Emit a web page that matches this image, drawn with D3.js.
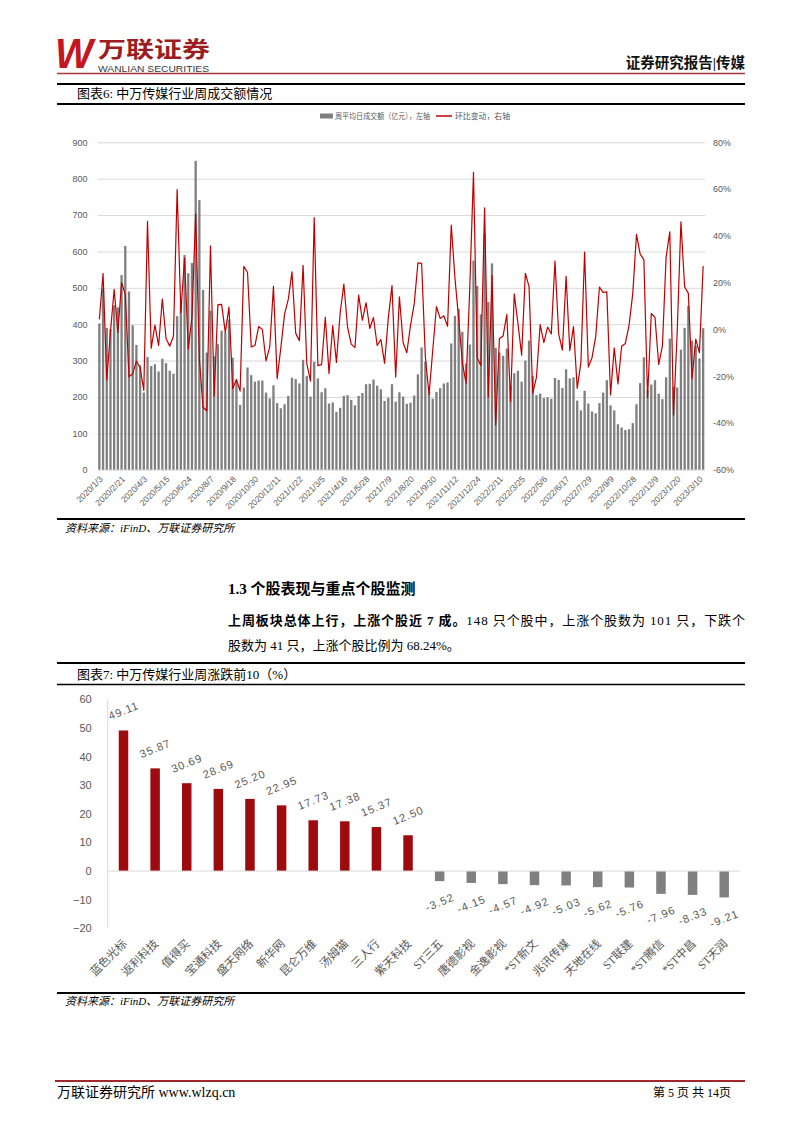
<!DOCTYPE html>
<html>
<head>
<meta charset="utf-8">
<script src="https://cdn.jsdelivr.net/npm/d3@7"></script>
<style>
  body { margin: 0; background: #fff; }
  svg { display: block; }
  .axis path.domain { display: none; }
  .axis line { stroke: #d9d9d9; }
</style>
</head>
<body>
<svg id="page" width="802" height="1133"></svg>
<script>
// ---- chart 6: weekly turnover of the SW media sector ----
const weekLabels = ["2020/1/3","2020/2/21","2020/4/3","2020/5/15","2020/6/24","2020/8/7","2020/9/18",
  "2020/10/30","2020/12/11","2021/1/22","2021/3/5","2021/4/16","2021/5/28","2021/7/9","2021/8/20",
  "2021/9/30","2021/11/12","2021/12/24","2022/2/11","2022/3/25","2022/5/6","2022/6/17","2022/7/29",
  "2022/9/9","2022/10/28","2022/12/9","2023/1/20","2023/3/10"];
const labelStep = 6;
// weekly average daily turnover, 100m yuan (left axis)
const turnover = [
  402, 498, 390, 386, 452, 446, 535, 615, 490, 397, 343, 287, 212, 310, 285, 290, 270, 305, 293, 272,
  264, 422, 452, 590, 540, 568, 849, 741, 494, 322, 437, 312, 345, 382, 377, 413, 308, 242, 178, 226,
  281, 260, 242, 245, 245, 212, 196, 232, 183,
  169, 180, 203, 253, 249, 237, 302, 258, 201, 297, 251, 213, 224, 182, 185, 159, 170, 203, 205, 192,
  177, 203, 211, 235, 236, 248, 231, 221, 189, 198, 235, 187, 213, 201, 181, 184, 204, 262, 336, 297,
  214, 195, 214, 224, 237, 240, 347, 423, 442, 379, 292, 344, 575, 505, 427, 649, 461,
  567, 335, 322, 313, 333, 230, 265, 272, 242, 300, 355, 258, 205, 209, 197, 199, 195, 252, 247, 225,
  276, 251, 254, 190, 163, 217, 182, 160, 155, 183, 212, 246, 177, 163, 125, 116, 109, 111, 128, 180,
  238, 309, 219, 234, 246, 209, 194, 254, 360, 228, 226, 330, 390, 450, 355, 340, 306, 389
];
// week-on-week change, % (right axis)
const momChange = [
  4.3, 23.9, -21.7, -1.0, 17.1, -1.3, 20.0, 15.0, -20.3, -19.0, -13.6, -16.3, -26.1, 46.2, -8.1, 1.8,
  -6.9, 13.0, -3.9, -7.2, -2.9, 59.8, 7.1, 30.5, -8.5, 5.2, 49.5, -12.7, -33.3, -34.8, 35.7, -28.6,
  10.6, 10.7, -1.3, 9.5, -25.4, -21.4, -26.4, 27.0, 24.3, -7.5, -6.9, 1.2, 0.0, -13.5, -7.5, 18.4, -21.1,
  -7.7, 6.5, 12.8, 24.6, -1.6, -4.8, 27.4, -14.6, -22.1, 47.8, -15.5, -15.1, 5.2, -18.8, 1.6, -14.1,
  6.9, 19.4, 1.0, -6.3, -7.8, 14.7, 3.9, 11.4, 0.4, 5.1, -6.9, -4.3, -14.5, 4.8, 18.7, -20.4, 13.9,
  -5.6, -10.0, 1.7, 10.9, 28.4, 28.2, -11.6, -27.9, -8.9, 9.7, 4.7, 5.8, 1.3, 44.6, 21.9, 4.5, -14.3,
  -23.0, 17.8, 67.2, -12.2, -15.4, 52.0, -29.0,
  23.0, -40.9, -3.9, -2.8, 6.4, -30.9, 15.2, 2.6, -11.0, 24.0, 18.3, -27.3, -20.5, 2.0, -5.7, 1.0,
  -2.0, 29.2, -2.0, -8.9, 22.7, -9.1, 1.2, -25.2, -14.2, 33.1, -16.1, -12.1, -3.1, 18.1, 15.8, 16.0,
  -28.0, -7.9, -23.3, -7.2, -6.0, 1.8, 15.3, 40.6, 32.2, 29.8, -29.1, 6.8, 5.1, -15.0, -7.2, 30.9,
  41.7, -36.7, -0.9, 46.0, 18.2, 15.4, -21.1, -4.2, -10.0, 27.1
];
const leftTicks = [0, 100, 200, 300, 400, 500, 600, 700, 800, 900];
const rightTicks = [-60, -40, -20, 0, 20, 40, 60, 80];

// ---- chart 7: top/bottom 10 weekly movers, % ----
const stockNames = ["蓝色光标", "返利科技", "值得买", "宝通科技", "盛天网络", "新华网", "昆仑万维", "汤姆猫", "三人行", "紫天科技",
  "ST三五", "唐德影视", "金逸影视", "*ST新文", "兆讯传媒", "天地在线", "ST联建", "*ST腾信", "*ST中昌", "ST天润"];
const stockChange = [49.11, 35.87, 30.69, 28.69, 25.20, 22.95, 17.73, 17.38, 15.37, 12.50,
  -3.52, -4.15, -4.57, -4.92, -5.03, -5.62, -5.76, -7.96, -8.33, -9.21];
const moverTicks = [-20, -10, 0, 10, 20, 30, 40, 50, 60];

const SERIF = '"Liberation Serif","Noto Sans CJK SC",serif';
const SANS = '"Liberation Sans","Noto Sans CJK SC",sans-serif';
const GREY_TXT = "#595959";

const svg = d3.select("#page");

function hline(y, x1, x2, w, color) {
  svg.append("line").attr("x1", x1).attr("x2", x2).attr("y1", y).attr("y2", y)
    .attr("stroke", color).attr("stroke-width", w);
}
function txt(x, y, s, size, opts) {
  opts = opts || {};
  const t = svg.append("text").attr("x", x).attr("y", y)
    .attr("font-family", opts.family || SERIF)
    .attr("font-size", size)
    .attr("fill", opts.fill || "#000")
    .attr("font-weight", opts.weight || "normal")
    .attr("font-style", opts.style || "normal")
    .attr("text-anchor", opts.anchor || "start")
    .text(s);
  if (opts.len) t.attr("textLength", opts.len).attr("lengthAdjust", opts.adjust || "spacingAndGlyphs");
  return t;
}

// ---- page header ----
txt(55, 68, "W", 42, {family: '"Liberation Sans",sans-serif', weight: "bold", style: "italic", fill: "#c4161e", len: 38});
txt(98, 57, "万联证券", 22, {family: '"Noto Sans CJK SC",sans-serif', weight: "bold", fill: "#9b1c21", len: 112});
txt(98, 71.5, "WANLIAN SECURITIES", 9, {family: '"Liberation Sans",sans-serif', fill: "#3a3a3a", len: 111});
txt(745, 68, "证券研究报告|传媒", 14.5, {weight: "bold", anchor: "end", fill: "#111"});
hline(73.5, 57, 745, 1.5, "#a8383b");

// ---- chart 6 frame ----
hline(84, 57, 745, 2.2, "#000");
txt(77, 98, "图表6:  中万传媒行业周成交额情况", 13);
hline(104, 57, 745, 2.2, "#000");

// legend
svg.append("rect").attr("x", 320).attr("y", 113.5).attr("width", 13).attr("height", 5).attr("fill", "#7f7f7f");
txt(335, 119, "周平均日成交额（亿元），左轴", 8, {fill: GREY_TXT, len: 95});
svg.append("line").attr("x1", 436).attr("x2", 452).attr("y1", 116).attr("y2", 116)
  .attr("stroke", "#c00000").attr("stroke-width", 1.5);
txt(455, 119, "环比变动，右轴", 8, {fill: GREY_TXT, len: 55});

const plot1 = {left: 97.5, right: 705, top: 142.3, bottom: 469.7};
const x1 = d3.scaleBand().domain(d3.range(turnover.length))
  .range([plot1.left, plot1.right]).paddingInner(0.38).paddingOuter(0.19);
const yL = d3.scaleLinear().domain([0, 900]).range([plot1.bottom, plot1.top]);
const yR = d3.scaleLinear().domain([-60, 80]).range([plot1.bottom, plot1.top]);

// gridlines
svg.append("g").attr("class", "axis")
  .attr("transform", "translate(" + plot1.left + ",0)")
  .call(d3.axisLeft(yL).tickValues(leftTicks).tickSize(-(plot1.right - plot1.left)).tickFormat(""));

// left / right axis labels
svg.append("g").attr("class", "axis")
  .attr("transform", "translate(" + (plot1.left - 10) + ",0)")
  .call(d3.axisLeft(yL).tickValues(leftTicks).tickSize(0).tickPadding(0))
  .selectAll("text").attr("font-family", SANS).attr("font-size", 9).attr("fill", GREY_TXT);
svg.append("g").attr("class", "axis")
  .attr("transform", "translate(" + (plot1.right + 8) + ",0)")
  .call(d3.axisRight(yR).tickValues(rightTicks).tickSize(0).tickPadding(0).tickFormat(d => d + "%"))
  .selectAll("text").attr("font-family", SANS).attr("font-size", 9).attr("fill", GREY_TXT);

// bars
svg.append("g").selectAll("rect")
  .data(turnover)
  .enter().append("rect")
    .attr("x", (d, i) => x1(i))
    .attr("y", d => yL(d))
    .attr("width", x1.bandwidth())
    .attr("height", d => yL(0) - yL(d))
    .attr("fill", "#7f7f7f");

// mom line
const momLine = d3.line()
  .x((d, i) => x1(i) + x1.bandwidth() / 2)
  .y(d => yR(d));
svg.append("path")
  .datum(momChange)
  .attr("d", momLine)
  .attr("fill", "none")
  .attr("stroke", "#c00000")
  .attr("stroke-width", 1.2)
  .attr("stroke-linejoin", "round");

// x labels, every 6th week
const xAxis1 = svg.append("g").attr("class", "axis")
  .attr("transform", "translate(0," + plot1.bottom + ")")
  .call(d3.axisBottom(x1)
    .tickValues(weekLabels.map((d, i) => i * labelStep))
    .tickSize(0)
    .tickFormat(i => weekLabels[i / labelStep]));
xAxis1.selectAll("text")
  .attr("font-family", SANS).attr("font-size", 8.5).attr("fill", GREY_TXT)
  .attr("text-anchor", "end")
  .attr("dy", 0).attr("y", 0)
  .attr("transform", "translate(4,10) rotate(-45)");

hline(519, 57, 745, 2.2, "#000");
txt(65, 532, "资料来源：iFinD、万联证券研究所", 11, {style: "italic"});

// ---- section text ----
txt(228, 594, "1.3  个股表现与重点个股监测", 15, {weight: "bold"});
const p1 = svg.append("text").attr("x", 228).attr("y", 625)
  .attr("font-family", SERIF).attr("font-size", 13).attr("fill", "#000")
  .attr("textLength", 517).attr("lengthAdjust", "spacing");
p1.append("tspan").attr("font-weight", "bold").text("上周板块总体上行，上涨个股近 7 成。");
p1.append("tspan").text("148 只个股中，上涨个股数为 101 只，下跌个");
txt(228, 650, "股数为 41 只，上涨个股比例为 68.24%。", 13);

// ---- chart 7 frame ----
hline(663, 57, 745, 2.2, "#000");
txt(77, 679, "图表7:  中万传媒行业周涨跌前10（%）", 13);
hline(684.5, 57, 745, 1.5, "#000");

const plot2 = {left: 107.7, right: 740, top: 699.3, bottom: 928.3};
const x2 = d3.scaleBand().domain(stockNames)
  .range([plot2.left, plot2.right]).paddingInner(0.7).paddingOuter(0.35);
const y2 = d3.scaleLinear().domain([-20, 60]).range([plot2.bottom, plot2.top]);

svg.append("g").attr("class", "axis")
  .attr("transform", "translate(" + (plot2.left - 16) + ",0)")
  .call(d3.axisLeft(y2).tickValues(moverTicks).tickSize(0).tickPadding(0))
  .selectAll("text").attr("font-family", SANS).attr("font-size", 11).attr("fill", GREY_TXT);
svg.append("line").attr("x1", plot2.left).attr("x2", plot2.left)
  .attr("y1", plot2.top).attr("y2", plot2.bottom).attr("stroke", "#d9d9d9");

svg.append("g").selectAll("rect")
  .data(stockChange)
  .enter().append("rect")
    .attr("x", (d, i) => x2(stockNames[i]))
    .attr("y", d => y2(Math.max(0, d)))
    .attr("width", x2.bandwidth())
    .attr("height", d => Math.abs(y2(d) - y2(0)))
    .attr("fill", d => d >= 0 ? "#9e0b0f" : "#808080");

svg.append("line").attr("x1", plot2.left).attr("x2", plot2.right)
  .attr("y1", y2(0)).attr("y2", y2(0)).attr("stroke", "#d9d9d9");

svg.append("g").selectAll("text")
  .data(stockChange)
  .enter().append("text")
    .attr("transform", (d, i) => {
      const cx = x2(stockNames[i]) + x2.bandwidth() / 2;
      const cy = d >= 0 ? y2(d) - 20 : y2(d) + 21;
      return "translate(" + cx + "," + cy + ") rotate(-22)";
    })
    .attr("text-anchor", "middle")
    .attr("dominant-baseline", "central")
    .attr("font-family", SANS).attr("font-size", 11).attr("fill", GREY_TXT)
    .attr("letter-spacing", 1)
    .text(d => d.toFixed(2));

const xAxis2 = svg.append("g").attr("class", "axis")
  .attr("transform", "translate(0," + plot2.bottom + ")")
  .call(d3.axisBottom(x2).tickSize(0));
xAxis2.selectAll("text")
  .attr("font-family", SERIF).attr("font-size", 11.5).attr("fill", GREY_TXT)
  .attr("text-anchor", "end")
  .attr("dy", 0).attr("y", 0)
  .attr("transform", "translate(4,16) rotate(-45)");

hline(993, 57, 745, 2.2, "#000");
txt(65, 1005, "资料来源：iFinD、万联证券研究所", 11, {style: "italic"});

// ---- footer ----
hline(1081, 55, 745, 2, "#a0282c");
txt(57, 1097, "万联证券研究所 www.wlzq.cn", 14);
txt(731, 1097, "第 5 页 共 14页", 12, {anchor: "end"});
</script>
</body>
</html>
